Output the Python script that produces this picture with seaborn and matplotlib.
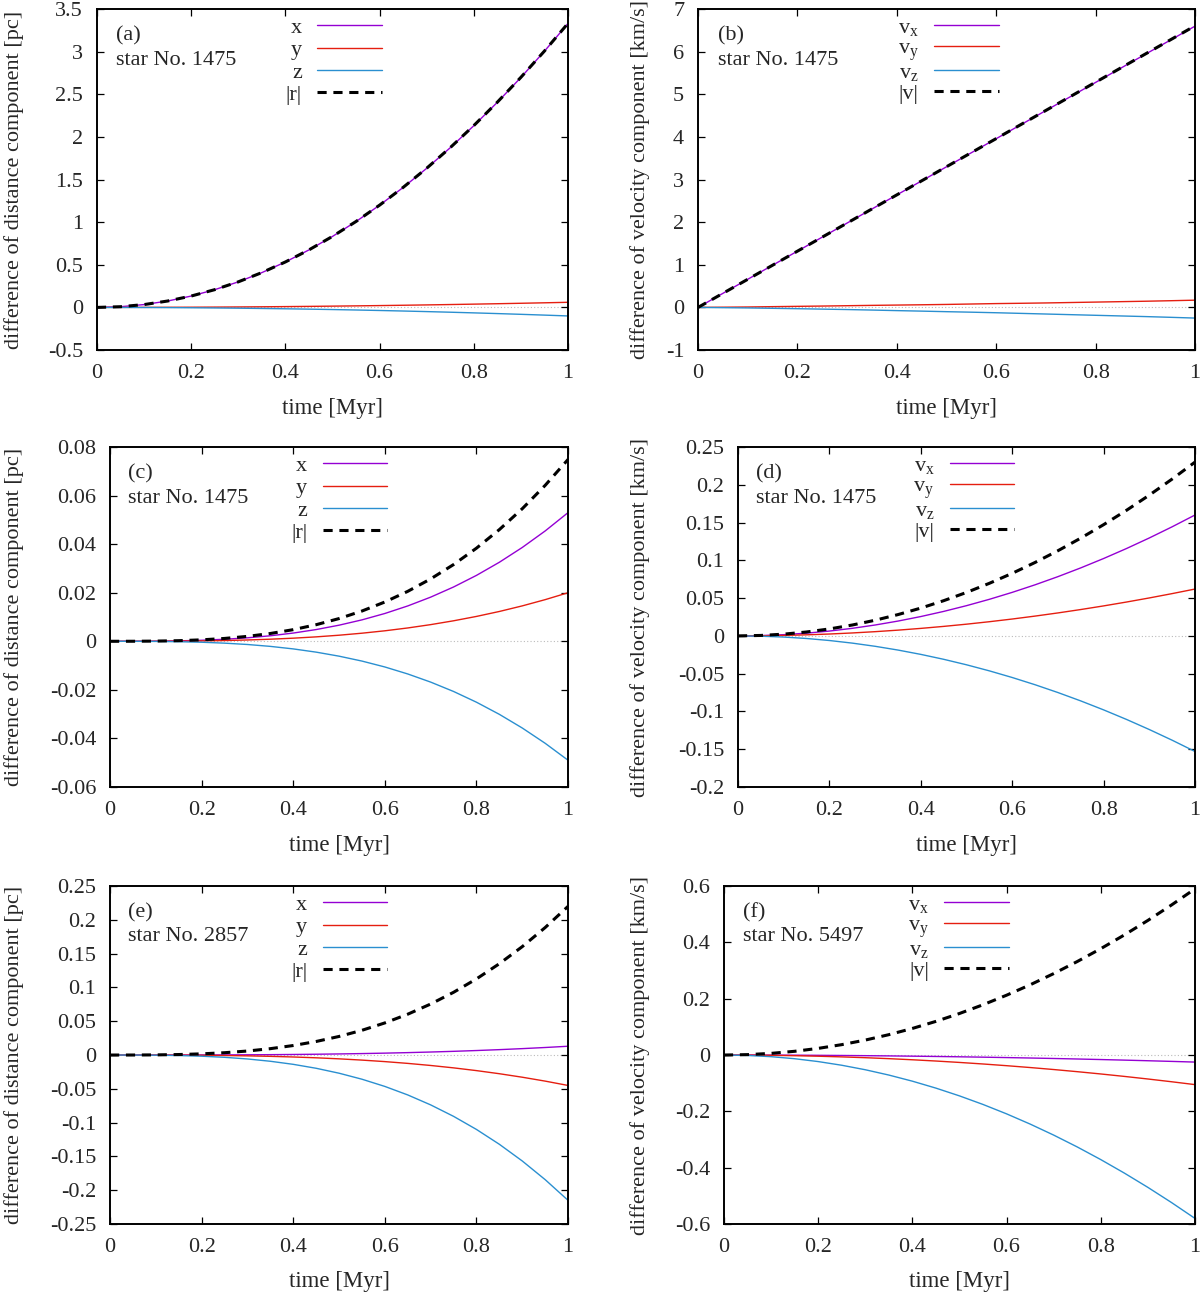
import matplotlib
matplotlib.use('Agg')
import matplotlib.pyplot as plt
import numpy as np
import seaborn as sns
from matplotlib.ticker import MultipleLocator, FuncFormatter

# sampled output, time in Myr
time = [0.0, 0.05, 0.1, 0.15, 0.2, 0.25, 0.3, 0.35, 0.4, 0.45, 0.5,
        0.55, 0.6, 0.65, 0.7, 0.75, 0.8, 0.85, 0.9, 0.95, 1.0]

# (a) distance difference, star 1475 [pc]
x_a = [0, 0.0083, 0.0333, 0.0749, 0.1332, 0.2081, 0.2997, 0.4079, 0.5328, 0.6743, 0.8325,
       1.0073, 1.1988, 1.4069, 1.6317, 1.8731, 2.1312, 2.4059, 2.6973, 3.0053, 3.330]
y_a = [0, 0.00015, 0.0006, 0.00135, 0.0024, 0.00375, 0.0054, 0.00735, 0.0096, 0.01215, 0.015,
       0.01815, 0.0216, 0.02535, 0.0294, 0.03375, 0.0384, 0.04335, 0.0486, 0.05415, 0.060]
z_a = [0, -0.00025, -0.001, -0.00225, -0.004, -0.00625, -0.009, -0.01225, -0.016, -0.02025, -0.025,
       -0.03025, -0.036, -0.04225, -0.049, -0.05625, -0.064, -0.07225, -0.081, -0.09025, -0.100]
r_a = [0, 0.0083, 0.0333, 0.0750, 0.1333, 0.2083, 0.2999, 0.4082, 0.5331, 0.6747, 0.8330,
       1.0079, 1.1995, 1.4078, 1.6327, 1.8743, 2.1325, 2.4074, 2.6989, 3.0071, 3.332]

# (b) velocity difference, star 1475 [km/s]
vx_b = [0, 0.33, 0.66, 0.99, 1.32, 1.65, 1.98, 2.31, 2.64, 2.97, 3.30,
        3.63, 3.96, 4.29, 4.62, 4.95, 5.28, 5.61, 5.94, 6.27, 6.60]
vy_b = [0, 0.005, 0.010, 0.018, 0.025, 0.032, 0.040, 0.048, 0.055, 0.062, 0.070,
        0.080, 0.090, 0.097, 0.105, 0.115, 0.125, 0.135, 0.145, 0.157, 0.170]
vz_b = [0, -0.006, -0.012, -0.021, -0.030, -0.040, -0.050, -0.062, -0.075, -0.087, -0.100,
        -0.112, -0.125, -0.140, -0.155, -0.170, -0.185, -0.200, -0.215, -0.232, -0.250]
v_b = [0, 0.330, 0.660, 0.990, 1.320, 1.650, 1.980, 2.311, 2.641, 2.971, 3.302,
       3.632, 3.962, 4.293, 4.623, 4.954, 5.285, 5.615, 5.946, 6.276, 6.607]

# (c) distance difference, star 1475 [pc]
x_c = [0, 0.00001, 0.00005, 0.00018, 0.00042, 0.00083, 0.00143, 0.00227, 0.00339, 0.00483, 0.00663,
       0.00882, 0.01145, 0.01456, 0.01818, 0.02236, 0.02714, 0.03255, 0.03864, 0.04544, 0.0530]
y_c = [0, 0.0, 0.00002, 0.00007, 0.00016, 0.00031, 0.00054, 0.00086, 0.00128, 0.00182, 0.0025,
       0.00333, 0.00432, 0.00549, 0.00686, 0.00844, 0.01024, 0.01228, 0.01458, 0.01715, 0.0200]
z_c = [0, -0.00001, -0.00005, -0.00017, -0.00039, -0.00077, -0.00132, -0.0021, -0.00314, -0.00447, -0.00613,
       -0.00815, -0.01058, -0.01346, -0.01681, -0.02067, -0.02509, -0.03009, -0.03572, -0.04201, -0.0490]
r_c = [0, 0.00001, 0.00008, 0.00025, 0.0006, 0.00117, 0.00202, 0.00321, 0.00479, 0.00683, 0.00936,
       0.01246, 0.01618, 0.02057, 0.02569, 0.0316, 0.03835, 0.046, 0.0546, 0.06422, 0.0749]

# (d) velocity difference, star 1475 [km/s]
vx_d = [0, 0.0004, 0.0016, 0.0036, 0.0064, 0.0100, 0.0144, 0.0196, 0.0256, 0.0324, 0.0400,
        0.0484, 0.0576, 0.0676, 0.0784, 0.0900, 0.1024, 0.1156, 0.1296, 0.1444, 0.160]
vy_d = [0, 0.00016, 0.00062, 0.0014, 0.00248, 0.00388, 0.00558, 0.0076, 0.00992, 0.01256, 0.0155,
        0.01876, 0.02232, 0.0262, 0.03038, 0.03488, 0.03968, 0.0448, 0.05022, 0.05596, 0.062]
vz_d = [0, -0.00038, -0.00153, -0.00344, -0.00612, -0.00956, -0.01377, -0.01874, -0.02448, -0.03098, -0.03825,
        -0.04628, -0.05508, -0.06464, -0.07497, -0.08606, -0.09792, -0.11054, -0.12393, -0.13808, -0.153]
v_d = [0, 0.00058, 0.0023, 0.00518, 0.0092, 0.01438, 0.0207, 0.02818, 0.0368, 0.04658, 0.0575,
       0.06958, 0.0828, 0.09718, 0.1127, 0.12938, 0.1472, 0.16618, 0.1863, 0.20758, 0.230]

# (e) distance difference, star 2857 [pc]
x_e = [0, 0.0, 0.00001, 0.00004, 0.0001, 0.0002, 0.00035, 0.00056, 0.00083, 0.00118, 0.00163,
       0.00216, 0.00281, 0.00357, 0.00446, 0.00548, 0.00666, 0.00798, 0.00948, 0.01115, 0.013]
y_e = [0, -0.00001, -0.00005, -0.00015, -0.00036, -0.0007, -0.00122, -0.00193, -0.00288, -0.0041, -0.00563,
       -0.00749, -0.00972, -0.01236, -0.01544, -0.01898, -0.02304, -0.02764, -0.03281, -0.03858, -0.045]
z_e = [0, -0.00003, -0.00022, -0.00073, -0.00172, -0.00336, -0.00581, -0.00922, -0.01376, -0.01959, -0.02688,
       -0.03577, -0.04644, -0.05904, -0.07375, -0.0907, -0.11008, -0.13204, -0.15674, -0.18434, -0.215]
r_e = [0, 0.00003, 0.00022, 0.00074, 0.00176, 0.00344, 0.00594, 0.00943, 0.01408, 0.02005, 0.0275,
       0.0366, 0.04752, 0.06042, 0.07546, 0.09281, 0.11264, 0.13511, 0.16038, 0.18862, 0.220]

# (f) velocity difference, star 5497 [km/s]
vx_f = [0, -0.00006, -0.00025, -0.00056, -0.001, -0.00156, -0.00225, -0.00306, -0.004, -0.00506, -0.00625,
        -0.00756, -0.009, -0.01056, -0.01225, -0.01406, -0.016, -0.01806, -0.02025, -0.02256, -0.025]
vy_f = [0, -0.00026, -0.00105, -0.00236, -0.0042, -0.00656, -0.00945, -0.01286, -0.0168, -0.02126, -0.02625,
        -0.03176, -0.0378, -0.04436, -0.05145, -0.05906, -0.0672, -0.07586, -0.08505, -0.09476, -0.105]
vz_f = [0, -0.00145, -0.0058, -0.01305, -0.0232, -0.03625, -0.0522, -0.07105, -0.0928, -0.11745, -0.145,
        -0.17545, -0.2088, -0.24505, -0.2842, -0.32625, -0.3712, -0.41905, -0.4698, -0.52345, -0.580]
v_f = [0, 0.00148, 0.0059, 0.01328, 0.0236, 0.03688, 0.0531, 0.07228, 0.0944, 0.11948, 0.1475,
       0.17848, 0.2124, 0.24928, 0.2891, 0.33188, 0.3776, 0.42628, 0.4779, 0.53248, 0.590]

pos_labels = ['x', 'y', 'z', '|r|']
vel_labels = [r'$\mathregular{v_x}$', r'$\mathregular{v_y}$', r'$\mathregular{v_z}$', '|v|']
ylab_pos = 'difference of distance component [pc]'
ylab_vel = 'difference of velocity component [km/s]'

sns.set_style('ticks')
plt.rcParams['font.family'] = ['Liberation Serif', 'DejaVu Serif']
plt.rcParams['mathtext.fontset'] = 'custom'
plt.rcParams['mathtext.rm'] = 'Liberation Serif'
plt.rcParams['axes.unicode_minus'] = False
plt.rcParams['lines.dashed_pattern'] = [3.0, 2.2]
plt.rcParams['xtick.direction'] = 'in'
plt.rcParams['ytick.direction'] = 'in'
plt.rcParams['xtick.top'] = True
plt.rcParams['ytick.right'] = True

colors = ['#9400d3', '#e51e10', '#2a8fd0', 'black']

fig = plt.figure(figsize=(12, 12.95), dpi=100)

# name, rect (figure fraction), series, labels, ylim, ystep, ylabel, star, ylabel x
panels = [
    ('(a)', [0.0808, 0.7297, 0.3925, 0.2633], [x_a, y_a, z_a, r_a], pos_labels, (-0.5, 3.5), 0.5, ylab_pos, '1475', -0.155),
    ('(b)', [0.5817, 0.7297, 0.4142, 0.2633], [vx_b, vy_b, vz_b, v_b], vel_labels, (-1, 7), 1, ylab_vel, '1475', -0.097),
    ('(c)', [0.0917, 0.3923, 0.3817, 0.2625], [x_c, y_c, z_c, r_c], pos_labels, (-0.06, 0.08), 0.02, ylab_pos, '1475', -0.188),
    ('(d)', [0.6150, 0.3923, 0.3808, 0.2625], [vx_d, vy_d, vz_d, v_d], vel_labels, (-0.2, 0.25), 0.05, ylab_vel, '1475', -0.193),
    ('(e)', [0.0917, 0.0548, 0.3817, 0.2610], [x_e, y_e, z_e, r_e], pos_labels, (-0.25, 0.25), 0.05, ylab_pos, '2857', -0.188),
    ('(f)', [0.6033, 0.0548, 0.3925, 0.2610], [vx_f, vy_f, vz_f, v_f], vel_labels, (-0.6, 0.6), 0.2, ylab_vel, '5497', -0.157),
]


def fmt(v, p):
    if abs(v) < 1e-9:
        return '0'
    return '%g' % round(v, 6)


for tag, rect, series, labels, ylim, ystep, ylabel, star, ylx in panels:
    ax = fig.add_axes(rect)
    ax.axhline(0, color='#bbbbbb', lw=0.8, ls=(0, (1, 2)), zorder=0.5)
    for i, (vals, lab) in enumerate(zip(series, labels)):
        if i < 3:
            sns.lineplot(x=time, y=vals, ax=ax, color=colors[i], linewidth=1.0, label=lab)
        else:
            sns.lineplot(x=time, y=vals, ax=ax, color=colors[i], linewidth=2.2, linestyle='--', label=lab)
    ax.set_xlim(0, 1)
    ax.set_ylim(*ylim)
    ax.xaxis.set_major_locator(MultipleLocator(0.2))
    ax.yaxis.set_major_locator(MultipleLocator(ystep))
    ax.xaxis.set_major_formatter(FuncFormatter(fmt))
    ax.yaxis.set_major_formatter(FuncFormatter(fmt))
    ax.tick_params(which='major', length=5, width=0.9, labelsize=16, color='black')
    ax.tick_params(axis='x', pad=10)
    ax.tick_params(axis='y', pad=10)
    for s in ax.spines.values():
        s.set_linewidth(1.4)
        s.set_color('black')
    ax.set_xlabel('time [Myr]', fontsize=16.5)
    ax.set_ylabel(ylabel, fontsize=16)
    ax.xaxis.set_label_coords(0.5, -0.14)
    ax.yaxis.set_label_coords(ylx, 0.5)
    ax.text(0.04, 0.92, tag, transform=ax.transAxes, va='center', ha='left', fontsize=16)
    ax.text(0.04, 0.85, 'star No. ' + star, transform=ax.transAxes, va='center', ha='left', fontsize=16)
    spacing = 0.08 if labels is pos_labels else 0.0
    ax.legend(loc='upper right', bbox_to_anchor=(0.605, 0.975), frameon=False, markerfirst=False,
              handlelength=2.9, handletextpad=0.7, labelspacing=spacing, borderpad=0, borderaxespad=0,
              fontsize=16)

fig.savefig('out.png', dpi=100)
plt.close('all')
